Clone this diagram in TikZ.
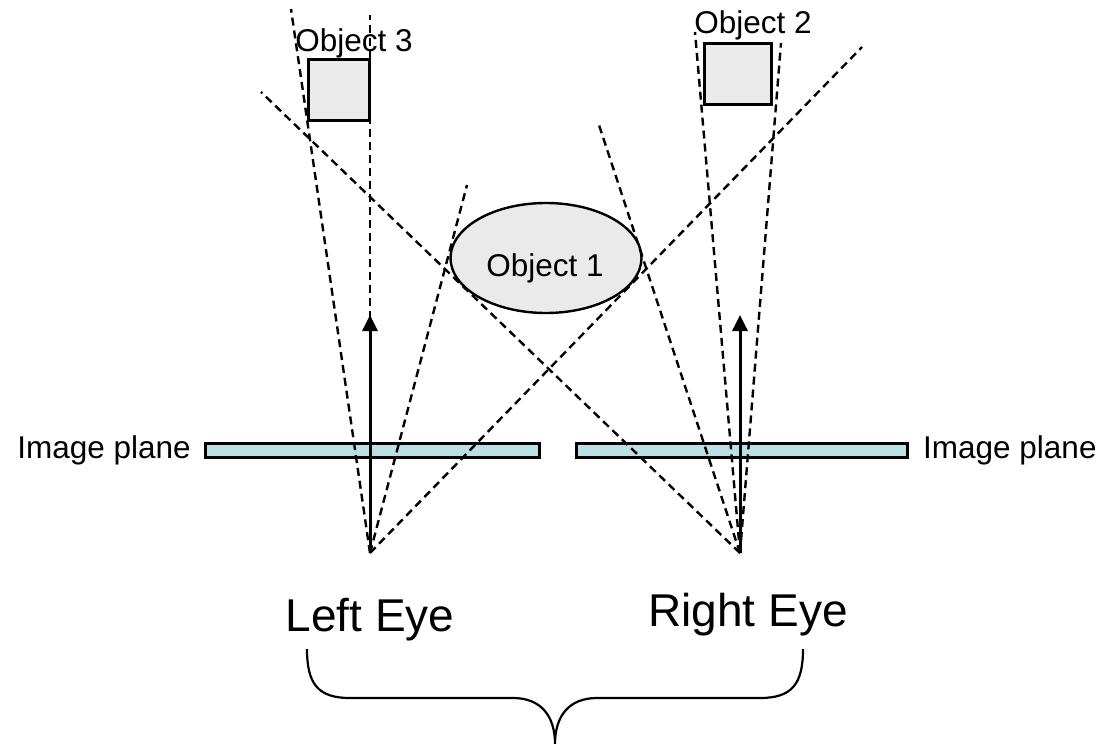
\documentclass[tikz,border=0pt]{standalone}
\usepackage{fontspec}
\setmainfont{Liberation Sans}
\usetikzlibrary{arrows.meta,positioning,shapes.geometric}
\definecolor{objgray}{RGB}{234,234,234}
\definecolor{planecyan}{RGB}{187,224,227}
\tikzset{
    objbox/.style={draw,line width=3pt,fill=objgray,inner sep=0pt},
    planebox/.style={draw,line width=3pt,fill=planecyan,inner sep=0pt,minimum height=14pt},
    smalltext/.style={font=\fontsize{31.5pt}{36pt}\selectfont,inner sep=0pt},
    bigtext/.style={font=\fontsize{46pt}{52pt}\selectfont,inner sep=0pt},
    sightline/.style={line width=2.4pt,dash pattern=on 8pt off 5pt},
    gazearrow/.style={line width=3pt,-{Triangle[width=15pt,length=16pt]}}
}
\begin{document}
\begin{tikzpicture}[x=1pt,y=-1pt]
                \useasboundingbox (0,0) rectangle (1101,744);

                \node[objbox,minimum width=61pt,minimum height=61pt] (obj3) at (339,90) {};
                \node[smalltext,anchor=base] (obj3text) at (354,51) {Object 3};

                \node[objbox,minimum width=67pt,minimum height=61pt] (obj2) at (738,74) {};
                \node[smalltext,anchor=base] (obj2text) at (753,34) {Object 2};

                \node[objbox,ellipse,line width=2.4pt,minimum width=191pt,minimum height=110pt] (obj1) at (546,258) {};
                \node[smalltext,anchor=base] (obj1text) at (545,276) {Object 1};

                \node[planebox,minimum width=334pt] (lplane) at (372.5,450) {};
                \node[planebox,minimum width=331pt] (rplane) at (742,450) {};
                \node[smalltext,left=13pt of lplane] (lplanetext) {Image plane};
                \node[smalltext,right=14pt of rplane] (rplanetext) {Image plane};

                \coordinate (leye) at (370,553);
                \coordinate (reye) at (740,553);
                \node[bigtext,anchor=base] (leyetext) at (370,631) {Left Eye};
                \node[bigtext,anchor=base] (reyetext) at (748,626) {Right Eye};

                \coordinate (ltip) at (370,315);
                \coordinate (rtip) at (740,315);
                \draw[gazearrow] (leye) -- (ltip);
                \draw[gazearrow] (reye) -- (rtip);

                \coordinate (o3left) at (291,9);
                \coordinate (o3right) at (370,15);
                \coordinate (o1left) at (467,185);
                \coordinate (o1far) at (862,47);
                \coordinate (o2left) at (695,32);
                \coordinate (o2right) at (781,43);
                \coordinate (o1right) at (598,122);
                \coordinate (o1rfar) at (261,92);

                \draw[sightline] (leye) -- (o3left);
                \draw[sightline] (leye) -- (o3right);
                \draw[sightline] (leye) -- (o1left);
                \draw[sightline] (leye) -- (o1far);
                \draw[sightline] (reye) -- (o2left);
                \draw[sightline] (reye) -- (o2right);
                \draw[sightline] (reye) -- (o1right);
                \draw[sightline] (reye) -- (o1rfar);

                \draw[line width=2.2pt] (307,649) .. controls (307,684) and (318,698) .. (350,698) -- (513,698)
                    .. controls (541,698) and (555,716) .. (555,744)
                    .. controls (555,716) and (569,698) .. (597,698) -- (760,698)
                    .. controls (792,698) and (803,684) .. (803,649);
            \end{tikzpicture}
\end{document}
